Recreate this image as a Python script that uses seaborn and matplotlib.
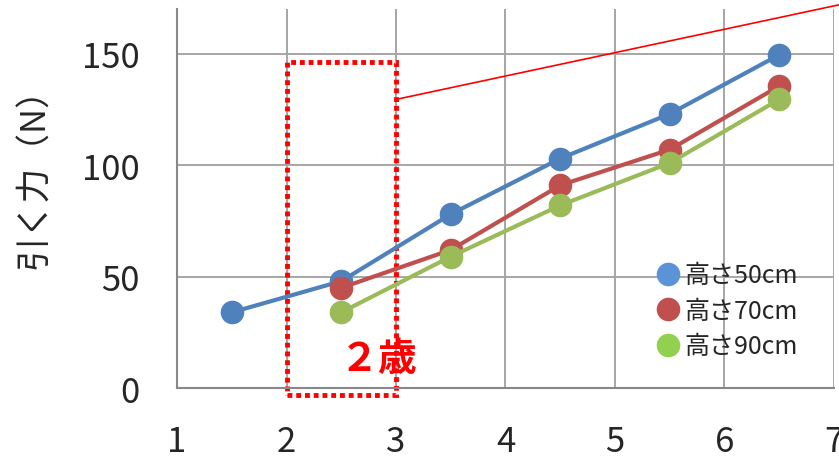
import pandas as pd
import seaborn as sns
import matplotlib.pyplot as plt
from matplotlib.lines import Line2D
from matplotlib.patches import Rectangle

sns.set_style("whitegrid")
plt.rcParams['font.family'] = ['Noto Sans CJK JP', 'DejaVu Sans']

heights = ["高さ50cm", "高さ70cm", "高さ90cm"]
ages_50 = [1.5, 2.5, 3.5, 4.5, 5.5, 6.5]
force_50 = [34, 48, 78, 103, 123, 149.5]
ages_70 = [2.5, 3.5, 4.5, 5.5, 6.5]
force_70 = [45, 62, 91, 107, 135.5]
ages_90 = [2.5, 3.5, 4.5, 5.5, 6.5]
force_90 = [34, 59, 82, 101, 129.5]

line_colors = ["#4F81BD", "#C0504D", "#9BBB59"]
legend_colors = ["#5B93D8", "#C0504D", "#92D050"]

df = pd.concat([
    pd.DataFrame({"age": ages_50, "force": force_50, "height": heights[0]}),
    pd.DataFrame({"age": ages_70, "force": force_70, "height": heights[1]}),
    pd.DataFrame({"age": ages_90, "force": force_90, "height": heights[2]}),
])

fig = plt.figure(figsize=(8.39, 4.60), dpi=100)
ax = fig.add_axes([0.211, 0.154, 0.783, 0.824])

sns.lineplot(data=df, x="age", y="force", hue="height", palette=line_colors,
             marker="o", markersize=17, markeredgewidth=0, linewidth=3,
             sort=False, legend=False, ax=ax)

ax.set_xlim(1, 7)
ax.set_ylim(0, 170)
ax.set_xticks(range(1, 8))
ax.set_yticks([0, 50, 100, 150])
ax.grid(True, color="#A6A6A6", linewidth=1.4)
ax.tick_params(axis="x", labelsize=25, pad=26, length=0)
ax.tick_params(axis="y", labelsize=25, pad=22, length=5, color="#888888")
for s in ["top", "right"]:
    ax.spines[s].set_visible(False)
for s in ["left", "bottom"]:
    ax.spines[s].set_color("#888888")
    ax.spines[s].set_linewidth(1.5)
ax.set_xlabel("")
ax.set_ylabel("引く力（N）", fontsize=25)
ax.yaxis.set_label_coords(-0.19, 0.58)

# 2歳 highlight box
ax.add_patch(Rectangle((2, -3), 1, 149.5, fill=False, edgecolor="#FF0000",
                       linestyle=(0, (1, 0.8)), linewidth=3.5, clip_on=False))
ax.text(3.2, 13.5, "２歳", color="#FF0000", fontsize=28, ha="right", va="center",
        fontweight="bold")
ax.plot([3.0, 7.1], [129.5, 172.5], color="#FF0000", linewidth=1.2, clip_on=False)

handles = [Line2D([], [], marker="o", linestyle="none", markersize=17,
                  markerfacecolor=c, markeredgewidth=0) for c in legend_colors]
ax.legend(handles, heights, loc="upper left", bbox_to_anchor=(0.70, 0.365),
          frameon=False, fontsize=18, handletextpad=-0.1, labelspacing=0.38,
          borderpad=0, handlelength=1.5)

fig.savefig("out.png", dpi=100)
